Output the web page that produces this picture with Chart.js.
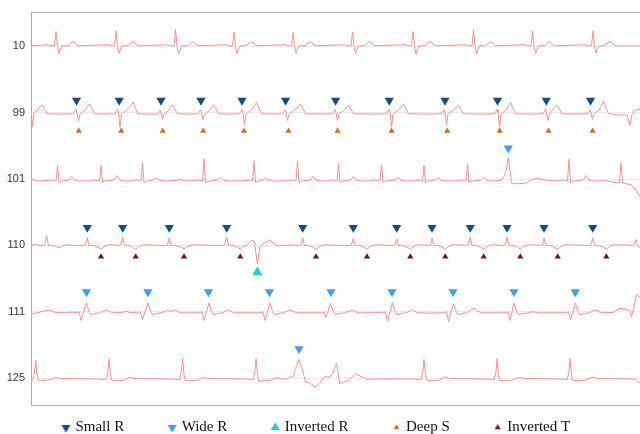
<!DOCTYPE html>
<html lang="en">
<head>
  <meta charset="UTF-8">
  <title>ECG beat annotations</title>
  <script src="https://cdn.jsdelivr.net/npm/chart.js"></script>
  <style>
    html, body { margin: 0; padding: 0; background: #fff; }
    .wrap { position: relative; width: 640px; height: 434px; }
  </style>
</head>
<body>
  <div class="wrap"><canvas id="ecgChart"></canvas></div>

  <script>
    // records, top to bottom
    const records = ['10', '99', '101', '110', '111', '125'];

    // traces: [time, mV] vertices
    const ecg10 = [
      [0,0.02],
      [17,0.05],[20,0.02],[23.5,0.02],[25,0.45],[26.5,0],[28,-0.21],[31,0.02],[37,0.02],[40,0.1],[42,0.15],[44,0.1],[47,0.02],
      [77,0.05],[80,0.02],[83.5,0.02],[85,0.47],[86.5,0],[88,-0.2],[91,0.02],[97,0.02],[100,0.1],[102,0.14],[104,0.1],[107,0.02],
      [136.5,0.05],[139.5,0.02],[143,0.02],[144.5,0.51],[146,0],[147.5,-0.23],[150.5,0.02],[156.5,0.02],[159.5,0.1],[161.5,0.15],[163.5,0.1],[166.5,0.02],
      [195,0.05],[198,0.02],[201.5,0.02],[203,0.44],[204.5,0],[206,-0.21],[209,0.02],[215,0.02],[218,0.1],[220,0.15],[222,0.1],[225,0.02],
      [254,0.05],[257,0.02],[260.5,0.02],[262,0.42],[263.5,0],[265,-0.2],[268,0.02],[274,0.02],[277,0.1],[279,0.14],[281,0.1],[284,0.02],
      [313.5,0.05],[316.5,0.02],[320,0.02],[321.5,0.44],[323,0],[324.5,-0.21],[327.5,0.02],[333.5,0.02],[336.5,0.1],[338.5,0.15],[340.5,0.1],[343.5,0.02],
      [374,0.05],[377,0.02],[380.5,0.02],[382,0.45],[383.5,0],[385,-0.23],[388,0.02],[394,0.02],[397,0.1],[399,0.15],[401,0.1],[404,0.02],
      [434.5,0.05],[437.5,0.02],[441,0.02],[442.5,0.5],[444,0],[445.5,-0.24],[448.5,0.02],[454.5,0.02],[457.5,0.1],[459.5,0.14],[461.5,0.1],[464.5,0.02],
      [493.5,0.05],[496.5,0.02],[500,0.02],[501.5,0.46],[503,0],[504.5,-0.21],[507.5,0.02],[513.5,0.02],[516.5,0.1],[518.5,0.15],[520.5,0.1],[523.5,0.02],
      [554,0.05],[557,0.02],[560.5,0.02],[562,0.48],[563.5,0],[565,-0.2],[568,0.02],[574,0.02],[577,0.1],[579,0.15],[581,0.1],[584,0.02],
      [609,0.02]
    ];

    const ecg99 = [
      [0,0.08],[1.3,-0.43],[3,-0.01],[6,0.06],[8.5,0.17],[11,0.23],[13.5,0.12],[16,-0.03],[30,-0.04],
      [42.5,-0.03],[45,0.1],[46,0],[47.5,-0.25],[49,-0.05],[50.5,0],[53.5,0.06],[56,0.17],[58.5,0.27],[61,0.12],[63.5,-0.03],[74,-0.04],
      [84,-0.03],[86.5,0.11],[87.5,0],[89,-0.43],[90.5,-0.05],[92,0],[95,0.06],[99.5,0.2],[102,0.32],[104.5,0.14],[107,-0.03],[118,-0.04],
      [126.5,-0.04],[129,0.08],[130,0],[131.5,-0.2],[133,-0.05],[134.5,0],[137.5,0.06],[139,0.15],[141.5,0.24],[144,0.1],[146.5,-0.03],[158,-0.04],
      [167,-0.03],[169.5,0.09],[170.5,0],[172,-0.2],[173.5,-0.05],[175,0],[178,0.06],[180.5,0.15],[183,0.23],[185.5,0.1],[188,-0.03],[200,-0.04],
      [208.5,-0.03],[211,0.1],[212,0],[213.5,-0.36],[215,-0.05],[216.5,0],[219.5,0.06],[223,0.18],[225.5,0.32],[228,0.13],[230.5,-0.03],[242,-0.04],
      [251.5,-0.03],[254,0.09],[255,0],[256.5,-0.23],[258,-0.05],[259.5,0],[262.5,0.06],[267,0.17],[269.5,0.27],[272,0.12],[274.5,-0.03],[290,-0.04],
      [301.5,-0.03],[304,0.1],[305,0],[306.5,-0.23],[308,-0.05],[309.5,0],[312.5,0.06],[315,0.15],[317.5,0.23],[320,0.1],[322.5,-0.03],[340,-0.04],
      [355.5,-0.03],[358,0.11],[359,0],[360.5,-0.43],[362,-0.05],[363.5,0],[366.5,0.06],[370,0.17],[372.5,0.27],[375,0.12],[377.5,-0.03],[395,-0.04],
      [410.5,-0.03],[413,0.09],[414,0],[415.5,-0.36],[417,-0.05],[418.5,0],[421.5,0.06],[425,0.15],[427.5,0.24],[430,0.1],[432.5,-0.03],[450,-0.04],
      [463.5,-0.03],[466,0.1],[467,0],[468.5,-0.43],[470,-0.05],[471.5,0],[474.5,0.06],[477,0.18],[479.5,0.32],[482,0.13],[484.5,-0.03],[500,-0.04],
      [512,-0.03],[514.5,0.12],[515.5,0],[517,-0.23],[518.5,-0.05],[520,0.02],[522,0.1],[523.5,0.16],[526,0.23],[528.5,0.1],[531,-0.03],[545,-0.04],
      [556.5,-0.03],[559,0.09],[560,0],[561.5,-0.2],[563,-0.05],[564.5,0],[567.5,0.06],[570,0.2],[572.5,0.35],[575,0.14],[577.5,-0.02],
      [584,-0.06],[596,-0.07],[599,-0.37],[601,-0.05],[604,0.06],[609,0.12]
    ];

    const ecg101 = [
      [0,0.03],[4,-0.05],[10,-0.06],[16,-0.04],
      [18.5,-0.05],[20.5,-0.02],[22.5,-0.05],[25,-0.05],[26.5,0.41],[28,-0.1],[30.5,-0.06],[37.5,-0.03],[40.5,0.08],[43.5,-0.03],[47.5,-0.06],
      [62,-0.05],[64,-0.01],[66,-0.05],[68.5,-0.05],[70,0.41],[71.5,-0.1],[74,-0.06],[83,-0.03],[86,0.11],[89,-0.03],[93,-0.06],
      [103.5,-0.05],[105.5,-0.02],[107.5,-0.05],[110,-0.05],[111.5,0.5],[113,-0.1],[115.5,-0.06],[122.5,-0.03],[125.5,0.04],[128.5,-0.03],[132.5,-0.06],
      [145,-0.04],[149,-0.01],[153,-0.05],
      [165,-0.05],[167,-0.02],[169,-0.05],[171.5,-0.05],[173,0.61],[174.5,-0.11],[177,-0.07],[186.5,-0.03],[189.5,0.06],[192.5,-0.03],[196.5,-0.06],
      [215,-0.05],[217,-0.02],[219,-0.05],[221.5,-0.05],[223,0.56],[224.5,-0.1],[227,-0.06],[232,-0.03],[235,0.04],[238,-0.03],[242,-0.06],
      [258.5,-0.05],[260.5,-0.02],[262.5,-0.05],[265,-0.05],[266.5,0.55],[268,-0.1],[270.5,-0.06],[279,-0.03],[282,0.08],[285,-0.03],[289,-0.06],
      [299.5,-0.05],[301.5,-0.02],[303.5,-0.05],[306,-0.05],[307.5,0.46],[309,-0.1],[311.5,-0.06],[319.5,-0.03],[322.5,0.08],[325.5,-0.03],[329.5,-0.06],
      [342.5,-0.05],[344.5,-0.02],[346.5,-0.05],[349,-0.05],[350.5,0.43],[352,-0.1],[354.5,-0.06],[364,-0.03],[367,0.06],[370,-0.03],[374,-0.06],
      [385,-0.05],[387,-0.02],[389,-0.05],[391.5,-0.05],[393,0.41],[394.5,-0.1],[397,-0.06],[404,-0.03],[407,0.04],[410,-0.03],[414,-0.06],
      [428.5,-0.05],[430.5,-0.02],[432.5,-0.05],[435,-0.05],[436.5,0.45],[438,-0.1],[440.5,-0.06],[449.5,-0.03],[452.5,0.06],[455.5,-0.03],[459.5,-0.06],
      [466,-0.05],[469,-0.04],[472.3,0.03],[475,0.23],[477.3,0.65],[479,0.23],[480.7,-0.12],[485.7,-0.14],[495.7,-0.12],[500.7,-0.02],[505.7,0.03],[512,-0.02],[520,-0.05],
      [530,-0.05],[532,-0.02],[534,-0.05],[536.5,-0.05],[538,0.6],[539.5,-0.11],[542,-0.06],[552,-0.03],[555,0.11],[558,-0.03],[562,-0.06],
      [575,-0.05],[584,-0.1],[588.5,-0.12],[590,0.5],[591.5,-0.12],[600,-0.17],[604,-0.3],[609,-0.52]
    ];

    const ecg110 = [
      [0,0],[3,0.02],[5.5,0.04],[8,0],[13.5,0],[15.7,0.3],[17.5,-0.02],[20,0.01],[24,-0.02],[28,-0.07],[32,-0.01],[36,0.02],[42,0],
      [52,0],[54.5,0.02],[56.3,0.23],[58,-0.01],[61,0.01],[66,-0.04],[70,-0.1],[74,-0.02],[78,0.02],[84,0.01],
      [88,0],[90,0.02],[91.7,0.26],[93.5,-0.01],[96.5,0.01],[100.7,-0.04],[104.7,-0.12],[108.7,-0.02],[112.7,0.02],[120,0.01],
      [134.5,0],[136.5,0.02],[138.3,0.23],[140,-0.01],[143,0.01],[149,-0.04],[153,-0.1],[157,-0.02],[161,0.02],[170,0.01],
      [191.5,0],[193.5,0.02],[195.7,0.25],[197.5,-0.01],[200.5,0.01],[205.3,-0.04],[209.3,-0.11],[213,-0.02],[216,0],[221,0.17],[223.5,0.1],[226.3,-0.55],[229,-0.03],[232,0.05],[238.5,0.17],[242,0.08],[246,0],[262,0.01],
      [268,0],[270,0.02],[271.7,0.23],[273.5,-0.01],[276.5,0.01],[281,-0.04],[285,-0.12],[289,-0.02],[293,0.02],[300,0.01],
      [318.5,0],[320.5,0.02],[322.3,0.21],[324,-0.01],[327,0.01],[332,-0.04],[336,-0.11],[340,-0.02],[344,0.02],[352,0.01],
      [362,0],[364,0.02],[365.7,0.2],[367.5,-0.01],[370.5,0.01],[375.3,-0.04],[379.3,-0.11],[383.3,-0.02],[387.3,0.02],[393,0.01],
      [397.5,0],[399.5,0.02],[401,0.23],[403,-0.01],[406,0.01],[410.3,-0.04],[414.3,-0.11],[418.3,-0.02],[422.3,0.02],[432,0.01],
      [435.5,0],[437.5,0.02],[439.3,0.25],[441,-0.01],[444,0.01],[448.7,-0.04],[452.7,-0.11],[456.7,-0.02],[460.7,0.02],[468,0.01],
      [472.5,0],[474.5,0.02],[476,0.25],[478,-0.01],[481,0.01],[485.3,-0.04],[489.3,-0.11],[493.3,-0.02],[497.3,0.02],[505,0.01],
      [509.5,0],[511.5,0.02],[513,0.23],[515,-0.01],[518,0.01],[522.7,-0.04],[526.7,-0.11],[530.7,-0.02],[534.7,0.02],[545,0.01],
      [558,0],[560,0.02],[561.7,0.23],[563.5,-0.01],[566.5,0.01],[571.3,-0.04],[575.3,-0.11],[579.3,-0.02],[583.3,0.02],[595,0.01],
      [601.5,0],[603,0.03],[605,0.18],[606.5,0],[609,-0.07]
    ];

    const ecg111 = [
      [0,-0.06],[6,-0.03],[14,0.03],[19,0.05],[24,-0.02],[34,-0.03],[41,-0.01],[46,-0.03],
      [48,0],[50,-0.26],[52.5,0],[55.5,0.27],[58,0.02],[60,-0.09],[64.5,-0.05],[69.5,-0.03],[75.5,0.06],[81.5,-0.03],[91,-0.02],[95.5,0.02],[99,-0.02],
      [107.5,-0.03],[109.5,0],[111.5,-0.24],[114,0],[117,0.27],[119.5,0.02],[121.5,-0.09],[126,-0.05],[131,-0.02],[137,0.05],[140,0.01],[144,0.06],[149,-0.03],[160,-0.03],
      [169,-0.03],[171,0],[173,-0.26],[175.5,0],[178,0.27],[180.5,0.02],[182.5,-0.09],[187,-0.05],[192,-0.03],[197,0.06],[203,-0.03],[215,-0.03],[222,-0.03],
      [230,-0.03],[232,0],[234,-0.26],[236.5,0],[239,0.27],[241.5,0.02],[243.5,-0.09],[248,-0.05],[253,-0.03],[259,0.06],[265,-0.03],[280,-0.03],[287,-0.03],
      [291,-0.03],[293,-0.01],[295,-0.17],[297,0],[299.5,0.25],[302,0.02],[304,-0.09],[308.5,-0.05],[314,-0.03],[321.5,0.05],[327,-0.03],[340,-0.03],[346,-0.02],
      [352.5,-0.03],[354.5,0],[356.5,-0.29],[359,0],[361.5,0.27],[364,0.02],[366,-0.09],[370.5,-0.05],[375.5,-0.03],[380.5,0.06],[386.5,-0.03],[400,-0.04],[410,-0.03],
      [413,-0.03],[415.5,0],[417.5,-0.29],[420,0],[422.5,0.24],[425,0.02],[427,-0.09],[431.5,-0.05],[436.5,-0.02],[439.5,0.05],[443,0.11],[447,0.01],[451,-0.03],[465,-0.03],[472,-0.03],
      [475,-0.03],[477,0],[479,-0.26],[481,0],[483,0.27],[485.5,0.02],[487.5,-0.09],[492,-0.05],[497,-0.03],[502,0],[507,-0.03],[520,-0.03],[532,-0.03],
      [535.5,-0.03],[537.5,0],[539.5,-0.24],[542,0],[544.5,0.27],[547,0.02],[549,-0.09],[553.5,-0.05],[558.5,-0.03],[564,0.06],[570,-0.03],[582,-0.02],[589,0.1],[595,0.08],
      [598.5,0.04],[600.5,-0.15],[602.5,0.1],[605.5,0.52],[609,0.45]
    ];

    const ecg125 = [
      [0,-0.05],[2,-0.05],[3.7,0.2],[4.7,0.54],[6,0.1],[7.3,-0.06],[12,-0.07],[18,-0.05],[21,-0.02],[25.7,0.02],[30,-0.01],[55,-0.02],[70,-0.03],[75,-0.05],
      [77,0.2],[78,0.57],[79.5,0.1],[80.5,-0.06],[84,-0.08],[92,-0.07],[95,-0.03],[99,0.02],[104,-0.01],[130,-0.02],[144,-0.03],[148.5,-0.05],
      [150.5,0.2],[151.5,0.59],[153,0.1],[154,-0.06],[157.5,-0.08],[165.5,-0.07],[168.5,-0.03],[172.5,0.02],[177.5,-0.01],[205,-0.02],[218,-0.03],[222,-0.05],
      [224,0.2],[225,0.59],[226.5,0.1],[227.5,-0.1],[231,-0.08],[239,-0.07],[242,-0.03],[245.7,0.02],[250,-0.02],[255,-0.03],[258,0.03],[262.5,0.04],
      [264.5,0.29],[268,0.56],[271.5,0.24],[274.5,-0.11],[279.5,-0.16],[284.5,-0.28],[289.3,-0.12],[293.5,0.05],[299,0.03],
      [302,0.15],[305.5,0.44],[308.8,-0.17],[314,-0.1],[317,-0.08],[325,0.13],[332,0.02],[336,-0.03],[360,-0.02],[385,-0.03],[390,-0.05],
      [392,0.2],[393,0.57],[394.5,0.1],[395.5,-0.06],[399,-0.08],[407,-0.07],[410,-0.03],[414,0.04],[419,-0.01],[445,-0.02],[458,-0.03],[463,-0.05],
      [465,0.2],[466,0.59],[467.5,0.1],[468.5,-0.06],[472,-0.08],[480,-0.07],[483,-0.03],[489,0.02],[494,-0.01],[520,-0.02],[532,-0.03],[536,-0.05],
      [538,0.2],[539,0.59],[540.5,0.1],[541.5,-0.06],[545,-0.08],[553,-0.07],[556,-0.03],[562,0.03],[567,-0.01],[590,-0.02],[602,-0.03],[604,-0.02],[609,-0.15]
    ];

    const traces = [ecg10, ecg99, ecg101, ecg110, ecg111, ecg125];

    // beat annotations: times per record
    const smallR99 = [45.5, 88.2, 130, 170, 211, 254.6, 304.6, 358.3, 414, 466.5, 515.3, 559.5];
    const smallR110 = [56.3, 91.7, 138.3, 195.7, 271.7, 322.3, 365.7, 401, 439.3, 476, 513, 561.7];
    const wideR101 = [477.3];
    const wideR111 = [55.5, 116.8, 177.5, 238.5, 300, 361, 422, 483, 544.3];
    const wideR125 = [268];
    const invertedR110 = [226.3];
    const deepS99 = [47.8, 90.2, 131.8, 172.2, 213, 257.5, 306.6, 360.6, 416.2, 468.7, 517.5, 561.6];
    const invertedT110 = [70, 104.7, 153, 209.3, 285, 336, 379.3, 414.3, 452.7, 489.3, 526.7, 575.3];

    // mV level at which each annotation row sits
    const markerLevel = {
      smallR99: 0.37, smallR110: 0.54,
      wideR101: 0.93, wideR111: 0.6, wideR125: 0.88,
      invertedR110: -0.81, deepS99: -0.55, invertedT110: -0.34
    };

    const ROW_GAP = 2;            // mV between record baselines
    const TRACE_COLOR = '#ff8f8f';
    const AXIS_COLOR = '#ababab';
    const LEGEND_PAD = 46;

    function rowOf(rec) { return records.indexOf(rec); }

    function glyph(color, r, down) {
      const s = Math.ceil(r * 2) + 2;
      const c = document.createElement('canvas');
      c.width = s; c.height = s;
      const g = c.getContext('2d');
      const cx = s / 2, cy = s / 2, k = down ? -1 : 1;
      const dx = r * Math.sin(Math.PI / 3);
      g.fillStyle = color;
      g.beginPath();
      g.moveTo(cx, cy - k * r);
      g.lineTo(cx + dx, cy + k * r / 2);
      g.lineTo(cx - dx, cy + k * r / 2);
      g.closePath();
      g.fill();
      return c;
    }

    function markerSet(label, color, radius, legendRadius, down, groups) {
      const data = [];
      groups.forEach(([rec, times, level]) => {
        times.forEach(t => data.push({ x: t, y: level - ROW_GAP * rowOf(rec) }));
      });
      return {
        label: label,
        data: data,
        showLine: false,
        pointStyle: 'triangle',
        rotation: down ? 180 : 0,
        pointRadius: radius,
        pointHoverRadius: radius,
        pointBackgroundColor: color,
        pointBorderColor: color,
        pointBorderWidth: 0,
        backgroundColor: color,
        borderColor: color,
        order: 0,
        isMarker: true,
        legendGlyph: glyph(color, legendRadius, down)
      };
    }

    const traceSets = traces.map((pts, i) => ({
      label: 'Record ' + records[i],
      data: pts.map(p => ({ x: p[0], y: p[1] - ROW_GAP * i })),
      borderColor: TRACE_COLOR,
      borderWidth: 1,
      pointRadius: 0,
      pointHoverRadius: 0,
      order: 1,
      isMarker: false
    }));

    const markerSets = [
      markerSet('Small R', '#0c4d8c', 5.3, 5.2, true,
        [['99', smallR99, markerLevel.smallR99], ['110', smallR110, markerLevel.smallR110]]),
      markerSet('Wide R', '#3d9ef7', 5.3, 5.2, true,
        [['101', wideR101, markerLevel.wideR101], ['111', wideR111, markerLevel.wideR111], ['125', wideR125, markerLevel.wideR125]]),
      markerSet('Inverted R', '#1fcfcf', 5.8, 5.2, false,
        [['110', invertedR110, markerLevel.invertedR110]]),
      markerSet('Deep S', '#cf6f16', 3.6, 3.3, false,
        [['99', deepS99, markerLevel.deepS99]]),
      markerSet('Inverted T', '#66123c', 3.6, 3.5, false,
        [['110', invertedT110, markerLevel.invertedT110]])
    ];

    // keep the legend band short while spreading its items wide
    const legendBand = {
      id: 'legendBand',
      beforeLayout(chart) {
        const lg = chart.legend;
        if (lg && !lg._bandFit) {
          const fit = lg.fit;
          lg.fit = function () { fit.call(this); this.height = 29; };
          lg._bandFit = true;
        }
      },
      afterLayout(chart) {
        const lg = chart.legend;
        lg.top = chart.chartArea.bottom + 22.5 - LEGEND_PAD - 7.5;
        lg.left -= 3;
        lg.right -= 3;
      }
    };

    const ctx = document.getElementById('ecgChart');

    const chart = new Chart(ctx, {
      type: 'line',
      data: { datasets: markerSets.concat(traceSets) },
      plugins: [legendBand],
      options: {
        responsive: true,
        maintainAspectRatio: false,
        animation: false,
        events: [],
        layout: { autoPadding: false, padding: { top: 10, right: 0, left: 0, bottom: 0 } },
        scales: {
          x: {
            type: 'linear',
            position: 'bottom',
            min: 0,
            max: 609,
            ticks: { display: false },
            grid: { drawOnChartArea: false, drawTicks: false },
            border: { color: AXIS_COLOR, width: 1 },
            afterFit: (axis) => { axis.height = 0; }
          },
          x2: {
            type: 'linear',
            axis: 'x',
            position: 'top',
            min: 0,
            max: 609,
            ticks: { display: false },
            grid: { drawOnChartArea: false, drawTicks: false },
            border: { color: AXIS_COLOR, width: 1 },
            afterFit: (axis) => { axis.height = 0; }
          },
          y: {
            type: 'linear',
            min: -10.81,
            max: 1.02,
            afterBuildTicks: (axis) => {
              axis.ticks = records.map((r, i) => ({ value: -ROW_GAP * i }));
            },
            afterFit: (axis) => { axis.width = 31; },
            ticks: {
              padding: 6,
              color: '#333',
              font: { family: '"Liberation Sans", Arial, sans-serif', size: 11 },
              callback: (v) => records[Math.round(-v / ROW_GAP)]
            },
            grid: { color: '#ebebeb', drawTicks: false },
            border: { color: AXIS_COLOR, width: 1 }
          }
        },
        plugins: {
          tooltip: { enabled: false },
          legend: {
            display: true,
            position: 'bottom',
            labels: {
              usePointStyle: true,
              boxWidth: 4,
              boxHeight: 7,
              padding: LEGEND_PAD,
              color: '#111',
              font: { family: '"Liberation Serif", "Times New Roman", serif', size: 15 },
              filter: (item, data) => data.datasets[item.datasetIndex].isMarker,
              generateLabels: (chart) => {
                const items = Chart.defaults.plugins.legend.labels.generateLabels(chart);
                return items.map(item => {
                  const ds = chart.data.datasets[item.datasetIndex];
                  if (ds.isMarker) {
                    item.pointStyle = ds.legendGlyph;
                    item.rotation = 0;
                  }
                  return item;
                });
              }
            }
          }
        }
      }
    });
  </script>
</body>
</html>
